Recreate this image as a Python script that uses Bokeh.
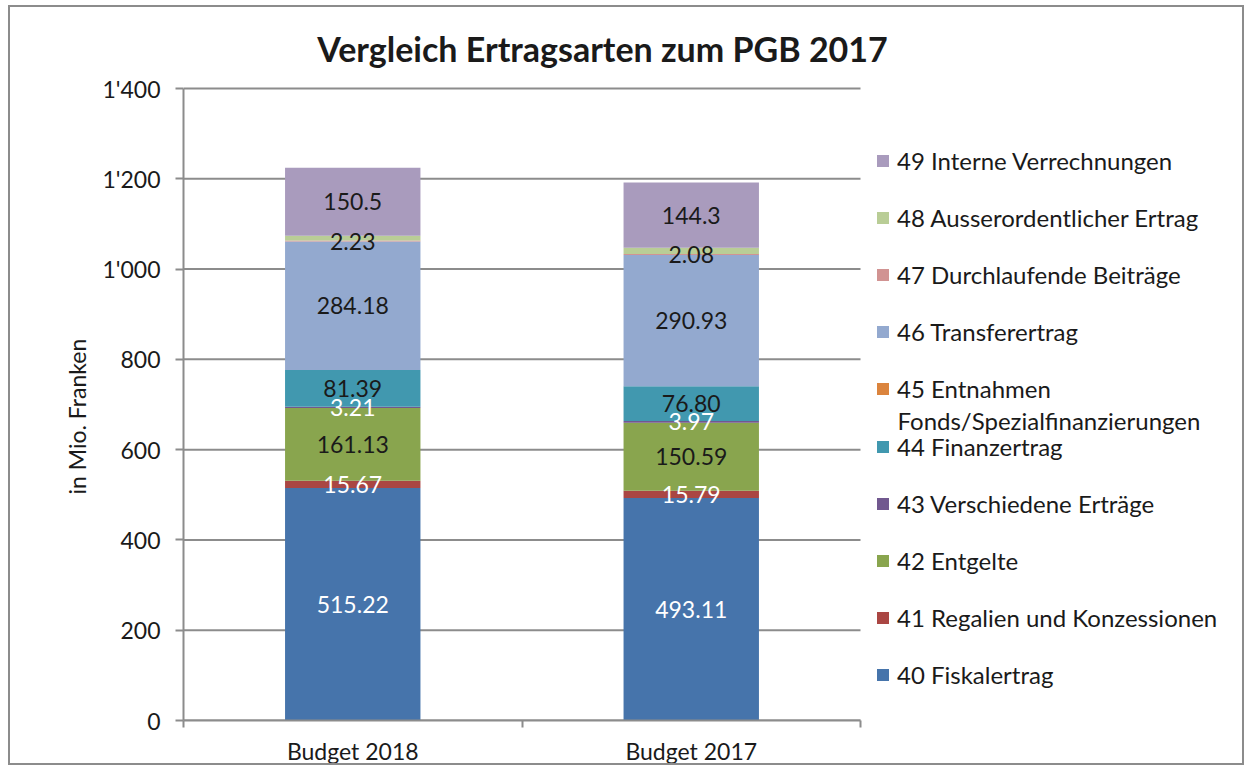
from bokeh.plotting import figure
from bokeh.models import (Range1d, FixedTicker, Legend, LegendItem, Label, Title, ColumnDataSource)
from bokeh.core.properties import value
from bokeh.embed import file_html
from bokeh.resources import INLINE

# ---------------- data ----------------
categories = ["Budget 2018", "Budget 2017"]
series_keys = ["s40", "s41", "s42", "s43", "s44", "s45", "s46", "s47", "s48", "s49"]
series_names = ["40 Fiskalertrag", "41 Regalien und Konzessionen", "42 Entgelte",
                "43 Verschiedene Erträge", "44 Finanzertrag", "45 Entnahmen",
                "46 Transferertrag", "47 Durchlaufende Beiträge",
                "48 Ausserordentlicher Ertrag", "49 Interne Verrechnungen"]
legend_extra_line = "Fonds/Spezialfinanzierungen"
title_text = "Vergleich Ertragsarten zum PGB 2017"
y_label = "in Mio. Franken"
s40 = [515.22, 493.11]
s41 = [15.67, 15.79]
s42 = [161.13, 150.59]
s43 = [3.21, 3.97]
s44 = [81.39, 76.80]
s45 = [0.0, 0.0]
s46 = [284.18, 290.93]
s47 = [2.23, 2.08]
s48 = [10.8, 14.2]
s49 = [150.5, 144.3]
l40 = ["515.22", "493.11"]
l41 = ["15.67", "15.79"]
l42 = ["161.13", "150.59"]
l43 = ["3.21", "3.97"]
l44 = ["81.39", "76.80"]
l45 = ["", ""]
l46 = ["284.18", "290.93"]
l47 = ["2.23", "2.08"]
l48 = ["", ""]
l49 = ["150.5", "144.3"]
y_ticks = [0, 200, 400, 600, 800, 1000, 1200, 1400]
y_tick_labels = ["0", "200", "400", "600", "800", "1'000", "1'200", "1'400"]

colors = ["#4674AB", "#AA4643", "#89A54E", "#71588F", "#4198AF", "#DB843D",
          "#93A9CF", "#D19392", "#B9CD96", "#A99BBD"]
label_colors = ["white", "white", "#1a1a1a", "white", "#1a1a1a", "#1a1a1a",
                "#1a1a1a", "#1a1a1a", "#1a1a1a", "#1a1a1a"]

values = [s40, s41, s42, s43, s44, s45, s46, s47, s48, s49]
labels = [l40, l41, l42, l43, l44, l45, l46, l47, l48, l49]

FONT = "Lato"
TXT = "#1a1a1a"
GRID = "#8c8c8c"

# ---------------- layout (pixels) ----------------
W, H = 1236, 760
LEFT, RIGHT, TOP, BOTTOM = 173, 5, 5, 47
PLOT_W, PLOT_H = 677, 632          # width/height of the bar/grid area
frame_w = W - LEFT - RIGHT
frame_h = H - TOP - BOTTOM

n = len(categories)
y_max = y_ticks[-1]
x_end = n * frame_w / PLOT_W
y_end = y_max * frame_h / PLOT_H

# category slots on a numeric axis: slot i spans [i, i+1], centre at i + 0.5
xpos = [i + 0.5 for i in range(n)]
bounds = [float(i) for i in range(n + 1)]

data = {"x": xpos}
for k, v in zip(series_keys, values):
    data[k] = v
source = ColumnDataSource(data)

p = figure(x_range=Range1d(0, x_end), y_range=Range1d(0, y_end),
           width=W, height=H, output_backend="svg", toolbar_location=None,
           min_border_left=LEFT, min_border_right=RIGHT,
           min_border_top=TOP, min_border_bottom=BOTTOM)
p.outline_line_color = None
p.xgrid.grid_line_color = None
p.ygrid.grid_line_color = None
p.styles = {"border": "2px solid #8c8c8c", "margin-left": "8px", "margin-top": "5px"}

# horizontal grid lines only over the bar area
p.segment(x0=[0] * len(y_ticks), x1=[n] * len(y_ticks), y0=y_ticks, y1=y_ticks,
          line_color=GRID, line_width=2)

# y axis
p.yaxis.bounds = (0, y_max)
p.yaxis.ticker = FixedTicker(ticks=y_ticks)
p.yaxis.major_label_overrides = {t: s for t, s in zip(y_ticks, y_tick_labels)}
p.yaxis.axis_line_color = GRID
p.yaxis.axis_line_width = 2
p.yaxis.major_tick_line_color = GRID
p.yaxis.major_tick_line_width = 2
p.yaxis.major_tick_in = 0
p.yaxis.major_tick_out = 8
p.yaxis.minor_tick_line_color = None
p.yaxis.major_label_standoff = 15
p.yaxis.major_label_text_font = FONT
p.yaxis.major_label_text_font_size = "23px"
p.yaxis.major_label_text_color = TXT

# y axis title, placed along the left side (starts near the bottom of the plot)
p.add_layout(Title(text=y_label, align="left", offset=226, standoff=16,
                   vertical_align="middle", text_font=FONT, text_font_style="normal",
                   text_font_size="23px", text_color=TXT), "left")

# x axis: labels at slot centres, tick marks at slot boundaries (minor ticks)
p.xaxis.bounds = (0, n)
p.xaxis.ticker = FixedTicker(ticks=xpos, minor_ticks=bounds)
p.xaxis.major_label_overrides = {x: c for x, c in zip(xpos, categories)}
p.xaxis.axis_line_color = GRID
p.xaxis.axis_line_width = 2
p.xaxis.major_tick_line_color = None
p.xaxis.minor_tick_line_color = GRID
p.xaxis.minor_tick_line_width = 2
p.xaxis.minor_tick_in = 0
p.xaxis.minor_tick_out = 7
p.xaxis.major_tick_in = 0
p.xaxis.major_tick_out = 0
p.xaxis.major_label_standoff = 9
p.xaxis.major_label_text_font = FONT
p.xaxis.major_label_text_font_size = "23px"
p.xaxis.major_label_text_color = TXT

# stacked bars
renderers = p.vbar_stack(series_keys, x="x", width=0.4, source=source,
                         color=colors, line_color=None)

# data labels
for i in range(len(series_keys)):
    ys = []
    for j in range(n):
        base = sum(values[k][j] for k in range(i))
        ys.append(base + values[i][j] / 2)
    p.text(x=xpos, y=ys, text=labels[i], text_align="center",
           text_baseline="middle", text_font=value(FONT), text_font_size="23px",
           text_color=label_colors[i])

# legends (two blocks, 49..45 and 44..40, plus wrapped second line of 45)
def make_legend(idx, loc):
    return Legend(items=[LegendItem(label=series_names[i], renderers=[renderers[i]]) for i in idx],
                  location=loc, orientation="vertical",
                  glyph_width=15, glyph_height=15, label_height=29, spacing=28,
                  label_standoff=7, margin=0, padding=0, border_line_color=None,
                  background_fill_alpha=0, label_text_font=FONT,
                  label_text_font_size="24px", label_text_color=TXT)

p.add_layout(make_legend([9, 8, 7, 6, 5], (692, 317)), "center")
p.add_layout(make_legend([4, 3, 2, 1, 0], (692, 31)), "center")
p.add_layout(Label(x=714, y=300, x_units="screen", y_units="screen",
                   text=legend_extra_line, text_font=FONT, text_font_size="24px",
                   text_color=TXT, text_baseline="middle"))

# title
p.add_layout(Label(x=419, y=672, x_units="screen", y_units="screen",
                   text=title_text, text_font=FONT,
                   text_font_size="34px", text_font_style="bold", text_color=TXT,
                   text_align="center", text_baseline="middle"))

open("out.html", "w").write(file_html(p, INLINE))
